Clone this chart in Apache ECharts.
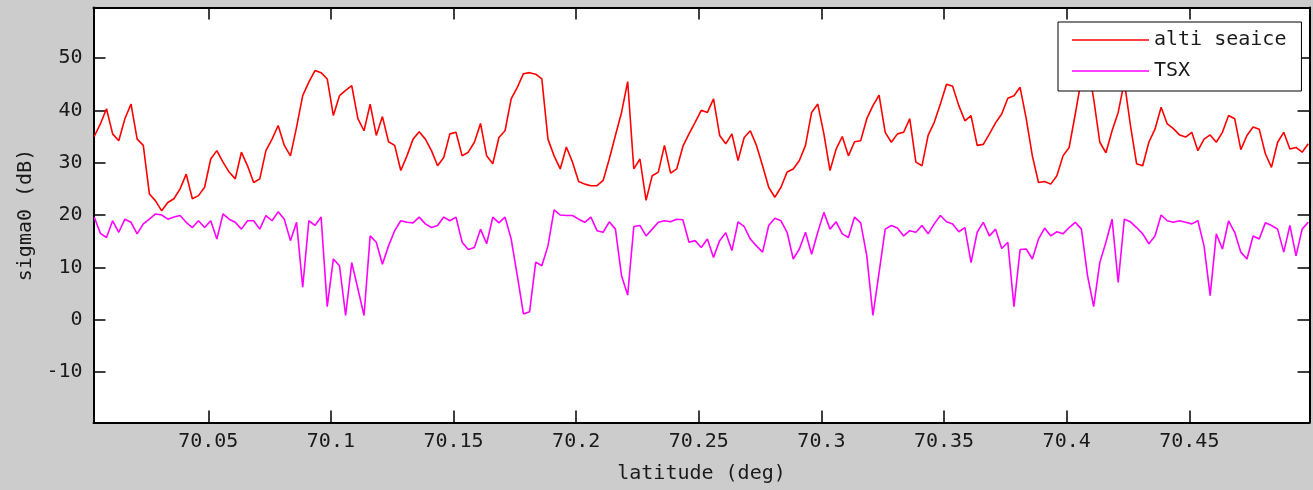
<!DOCTYPE html>
<html>
<head>
<meta charset="utf-8">
<script src="https://cdn.jsdelivr.net/npm/echarts@6/dist/echarts.min.js"></script>
<style>
html,body{margin:0;padding:0;background:#cccccc;}
#chart{width:1313px;height:490px;}
</style>
</head>
<body>
<div id="chart"></div>
<script>
// latitude grid of the samples (deg)
const latStart = 70.0035;
const latStep = 0.0025;
const seriesNames = ['alti seaice', 'TSX'];
const xAxisName = 'latitude (deg)';
const yAxisName = 'sigma0 (dB)';

// alti seaice sigma0 (dB)
const alti = [
35,37.4,40.3,35.5,34.2,38.4,41.2,34.5,33.3,24,
22.7,20.8,22.4,23.1,25,27.8,23.1,23.7,25.3,30.7,
32.3,30.1,28.2,26.9,32,29.4,26.2,26.9,32.3,34.5,
37.1,33.3,31.3,36.8,42.8,45.4,47.6,47.2,46,39,
42.8,43.8,44.7,38.4,36.1,41.2,35.2,38.8,34,33.3,
28.5,31.3,34.5,35.9,34.5,32.3,29.4,31,35.5,35.8,
31.3,32,33.9,37.5,31.3,29.8,34.8,36.1,42.2,44.4,
47,47.2,46.9,46,34.5,31.3,28.8,33,30.1,26.4,
25.9,25.6,25.6,26.6,30.7,35.2,39.6,45.5,28.8,30.7,
22.8,27.5,28.2,33.3,28,28.8,33.1,35.5,37.7,40,
39.6,42.2,35.2,33.6,35.5,30.4,34.8,36.1,33.3,29.4,
25.3,23.4,25.3,28.2,28.8,30.4,33.3,39.6,41.2,35.5,
28.5,32.6,35,31.3,34,34.2,38.4,40.9,42.9,35.8,
33.9,35.5,35.8,38.4,30.1,29.4,35.2,37.7,41.2,45,
44.6,40.9,38,39,33.3,33.5,35.5,37.6,39.3,42.3,
42.8,44.4,38.4,31.3,26.2,26.4,25.9,27.5,31.3,32.9,
39.3,46,49,42.2,33.9,31.9,36.1,39.6,45.5,37.1,
29.8,29.4,33.9,36.4,40.6,37.4,36.5,35.3,34.9,35.8,
32.3,34.5,35.3,33.9,35.8,39,38.4,32.5,35.2,36.8,
36.4,31.7,29.1,33.9,35.8,32.6,32.9,32,33.6
];

// TSX sigma0 (dB)
const tsx = [
19.6,16.5,15.7,18.9,16.7,19.2,18.6,16.4,18.3,19.2,
20.2,20,19.2,19.6,19.9,18.6,17.6,18.9,17.6,18.9,
15.4,20.2,19.2,18.6,17.3,18.9,18.9,17.3,19.9,18.9,
20.6,19.2,15.1,18.6,6.2,18.9,18,19.6,2.5,11.6,
10.3,0.8,10.9,5.9,0.8,16,14.8,10.6,14.1,17,
18.9,18.6,18.5,19.6,18.3,17.6,18,19.6,18.9,19.6,
14.8,13.4,13.8,17.3,14.5,19.6,18.5,19.6,15.4,8.4,
1.1,1.5,11,10.3,14.1,21,20,19.9,19.9,19.2,
18.6,19.6,17,16.7,18.7,17.3,8.4,4.7,17.8,18,
16,17.3,18.6,18.9,18.7,19.2,19.1,14.8,15.1,13.8,
15.4,11.9,15.1,16.6,13.2,18.7,17.8,15.4,14.1,12.9,
18,19.4,18.9,16.7,11.6,13.5,16.7,12.5,16.7,20.5,
17.3,18.7,16.4,15.7,19.6,18.5,12.2,0.8,9,17.3,
18,17.5,16,17,16.7,18,16.4,18.3,19.9,18.7,
18.3,16.8,17.6,10.9,16.7,18.6,16,17.3,13.6,14.8,
2.5,13.4,13.5,11.6,15.4,17.5,16,16.8,16.4,17.6,
18.6,17.3,8.4,2.5,10.9,14.8,19.2,7.1,19.2,18.7,
17.6,16.4,14.5,16,20,18.9,18.6,18.9,18.6,18.3,
18.9,14.1,4.6,16.4,13.5,18.9,16.7,12.9,11.6,16,
15.4,18.5,18,17.3,12.9,18,12.2,17.3,18.6
];

const lat = alti.map((_, i) => +(latStart + i * latStep).toFixed(4));
const altiData = alti.map((v, i) => [lat[i], v]);
const tsxData = tsx.map((v, i) => [lat[i], v]);

const FONT = 'DejaVu Sans Mono';
const TXT = '#1a1a1a';
const xMin = 70.0032, xMax = 70.499;
const yMin = -19.65, yMax = 59.65;

const axisLine = { show: true, onZero: false, lineStyle: { color: '#000', width: 2 } };
const axisTick = { show: true, inside: true, length: 12, lineStyle: { color: '#000', width: 1.5 } };

const chart = echarts.init(document.getElementById('chart'), null, { renderer: 'canvas' });
chart.setOption({
  animation: false,
  backgroundColor: '#cccccc',
  grid: {
    left: 93.5, right: 3.5, top: 7.5, bottom: 67.5,
    show: true, backgroundColor: '#ffffff', borderWidth: 0
  },
  legend: {
    orient: 'vertical',
    left: 1058, top: 22,
    padding: [8, 15, 10, 14],
    itemWidth: 77, itemHeight: 20, itemGap: 11,
    icon: 'path://M0,0H77V1.6H0Z',
    itemStyle: { borderWidth: 0 },
    backgroundColor: '#ffffff',
    borderColor: '#000', borderWidth: 1,
    textStyle: { fontFamily: FONT, fontSize: 20, color: TXT },
    data: seriesNames
  },
  xAxis: [
    {
      type: 'value', min: xMin, max: xMax, position: 'bottom',
      splitNumber: 10, minInterval: 0.05, maxInterval: 0.05,
      axisLine, axisTick, splitLine: { show: false },
      axisLabel: {
        showMinLabel: false, showMaxLabel: false, margin: 9,
        fontFamily: FONT, fontSize: 20, color: TXT,
        formatter: v => v.toFixed(2).replace(/0$/, '')
      },
      name: xAxisName, nameLocation: 'middle', nameGap: 41,
      nameTextStyle: { fontFamily: FONT, fontSize: 20, color: TXT }
    },
    {
      type: 'value', min: xMin, max: xMax, position: 'top',
      splitNumber: 10, minInterval: 0.05, maxInterval: 0.05,
      axisLine, axisTick, splitLine: { show: false },
      axisLabel: { show: false }
    }
  ],
  yAxis: [
    {
      type: 'value', min: yMin, max: yMax, position: 'left',
      splitNumber: 8, minInterval: 10, maxInterval: 10,
      axisLine, axisTick, splitLine: { show: false },
      axisLabel: {
        showMinLabel: false, showMaxLabel: false, margin: 11,
        fontFamily: FONT, fontSize: 20, color: TXT,
        formatter: v => String(Math.round(v))
      },
      name: yAxisName, nameLocation: 'middle', nameGap: 55,
      nameTextStyle: { fontFamily: FONT, fontSize: 20, color: TXT }
    },
    {
      type: 'value', min: yMin, max: yMax, position: 'right',
      splitNumber: 8, minInterval: 10, maxInterval: 10,
      axisLine, axisTick, splitLine: { show: false },
      axisLabel: { show: false }
    }
  ],
  series: [
    {
      name: seriesNames[0], type: 'line', data: altiData,
      xAxisIndex: 0, yAxisIndex: 0,
      symbol: 'none', lineStyle: { color: '#ff0000', width: 1.6 },
      itemStyle: { color: '#ff0000' }
    },
    {
      name: seriesNames[1], type: 'line', data: tsxData,
      xAxisIndex: 0, yAxisIndex: 0,
      symbol: 'none', lineStyle: { color: '#ff00ff', width: 1.6 },
      itemStyle: { color: '#ff00ff' }
    }
  ]
});
</script>
</body>
</html>
